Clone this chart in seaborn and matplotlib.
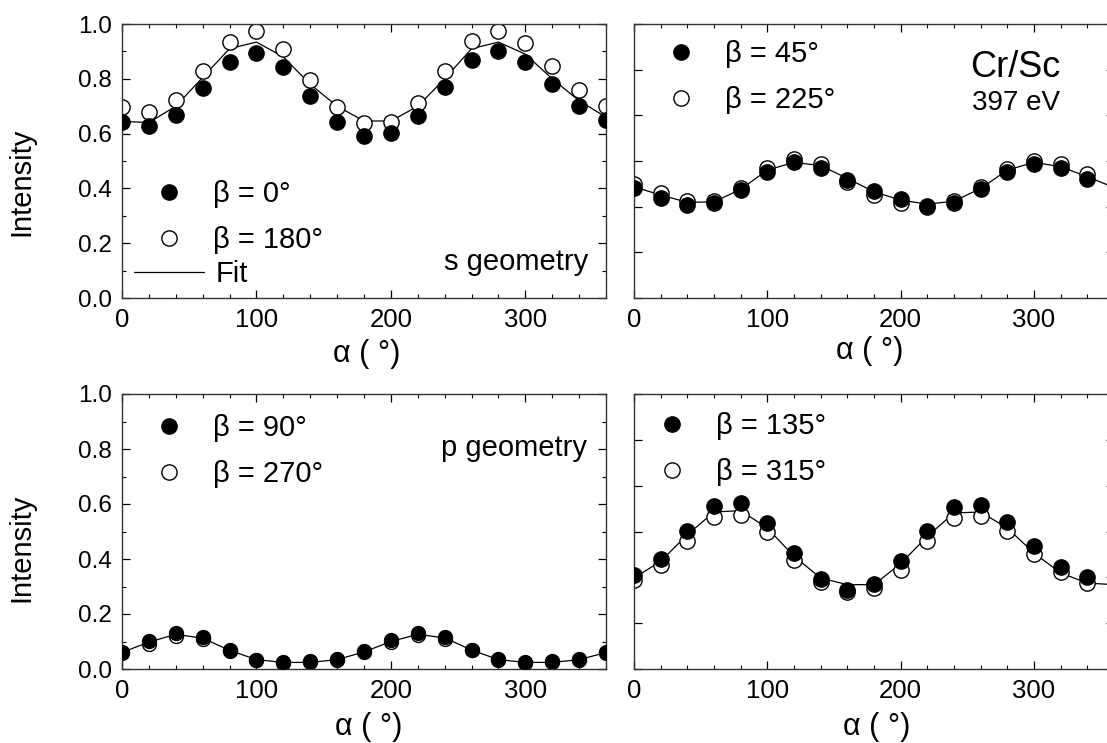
import numpy as np
import pandas as pd
import matplotlib
matplotlib.use("Agg")
import matplotlib.pyplot as plt
from matplotlib.lines import Line2D
from matplotlib.ticker import MultipleLocator
import seaborn as sns

# ---------------- data ----------------
alpha = [0, 20, 40, 60, 80, 100, 120, 140, 160, 180, 200, 220, 240, 260, 280, 300, 320, 340, 360]
alpha_r = alpha[:-1]

# s geometry (left axis scale 0-1)
b0 = [0.644, 0.629, 0.668, 0.766, 0.863, 0.894, 0.843, 0.739, 0.641, 0.591, 0.601, 0.665, 0.770, 0.867, 0.900, 0.861, 0.780, 0.699, 0.648]
b180 = [0.696, 0.679, 0.723, 0.830, 0.934, 0.973, 0.909, 0.796, 0.696, 0.638, 0.641, 0.713, 0.830, 0.937, 0.973, 0.930, 0.845, 0.760, 0.699]
fit_s = [0.645, 0.640, 0.700, 0.805, 0.910, 0.934, 0.880, 0.780, 0.700, 0.646, 0.646, 0.700, 0.800, 0.910, 0.934, 0.890, 0.800, 0.720, 0.660]

# beta 45/225 (own scale 0-1.2)
b45 = [0.480, 0.440, 0.407, 0.414, 0.473, 0.553, 0.594, 0.568, 0.517, 0.470, 0.433, 0.404, 0.414, 0.476, 0.550, 0.587, 0.571, 0.521]
b225 = [0.498, 0.458, 0.424, 0.424, 0.483, 0.568, 0.607, 0.585, 0.509, 0.451, 0.414, 0.400, 0.424, 0.487, 0.565, 0.601, 0.587, 0.543]
fit_45 = [0.487, 0.451, 0.419, 0.421, 0.476, 0.560, 0.594, 0.580, 0.524, 0.465, 0.429, 0.411, 0.424, 0.480, 0.560, 0.594, 0.575, 0.531, 0.484]

# p geometry (left axis scale 0-1)
b90 = [0.061, 0.103, 0.131, 0.115, 0.068, 0.034, 0.024, 0.028, 0.038, 0.064, 0.107, 0.131, 0.116, 0.070, 0.036, 0.024, 0.028, 0.038, 0.062]
b270 = [0.058, 0.092, 0.121, 0.109, 0.067, 0.032, 0.022, 0.025, 0.034, 0.061, 0.097, 0.122, 0.110, 0.068, 0.034, 0.022, 0.025, 0.034, 0.059]
fit_p = [0.060, 0.098, 0.126, 0.112, 0.068, 0.034, 0.024, 0.024, 0.034, 0.062, 0.100, 0.126, 0.113, 0.069, 0.034, 0.024, 0.024, 0.034, 0.060]

# beta 135/315 (own scale 0-1.2)
b135 = [0.412, 0.481, 0.604, 0.710, 0.724, 0.637, 0.506, 0.394, 0.346, 0.372, 0.470, 0.601, 0.705, 0.717, 0.641, 0.535, 0.445, 0.401]
b315 = [0.390, 0.455, 0.560, 0.662, 0.673, 0.598, 0.477, 0.380, 0.336, 0.353, 0.433, 0.560, 0.659, 0.669, 0.604, 0.502, 0.422, 0.375]
fit_135 = [0.397, 0.470, 0.586, 0.685, 0.691, 0.615, 0.492, 0.397, 0.368, 0.368, 0.460, 0.579, 0.681, 0.685, 0.615, 0.506, 0.419, 0.375, 0.368]

x_ticks = [0, 100, 200, 300]
y_ticks_left = [0.0, 0.2, 0.4, 0.6, 0.8, 1.0]

# ---------------- style ----------------
sns.set_theme(style="ticks")
plt.rcParams['font.family'] = ['Liberation Sans', 'DejaVu Sans']
plt.rcParams['text.color'] = 'black'
plt.rcParams['axes.labelcolor'] = 'black'
plt.rcParams['xtick.color'] = 'black'
plt.rcParams['ytick.color'] = 'black'

W, H = 1107, 743
fig = plt.figure(figsize=(W / 100, H / 100), dpi=100)


def px_axes(left, right, top, bottom):
    return fig.add_axes([left / W, 1 - bottom / H, (right - left) / W, (bottom - top) / H])


axTL = px_axes(122, 606, 24, 298)
axTR = px_axes(634, 1114, 24, 298)
axBL = px_axes(122, 606, 394, 669)
axBR = px_axes(634, 1114, 394, 669)

MS = 11


def draw(ax, xs_pts, filled, opened, fit, ms=MS):
    df = pd.DataFrame({"a": xs_pts, "f": filled, "o": opened})
    dfit = pd.DataFrame({"a": alpha[:len(fit)], "fit": fit})
    sns.lineplot(data=dfit, x="a", y="fit", ax=ax, color="black", lw=0.9, zorder=1)
    sns.scatterplot(data=df, x="a", y="o", ax=ax, s=ms ** 2, color="white",
                    edgecolor="black", linewidth=1.0, zorder=2)
    sns.scatterplot(data=df, x="a", y="f", ax=ax, s=ms ** 2, color="black",
                    edgecolor="black", linewidth=1.0, zorder=3)


draw(axTL, alpha, b0, b180, fit_s)
draw(axTR, alpha_r, b45, b225, fit_45)
draw(axBL, alpha, b90, b270, fit_p, ms=10)
draw(axBR, alpha_r, b135, b315, fit_135)

xlabel_pos = {axTL: (0.506, -0.204), axTR: (0.492, -0.193),
              axBL: (0.51, -0.21), axBR: (0.506, -0.21)}
ylabel_pos = {axTL: (-0.207, 0.423), axBL: (-0.207, 0.44)}

for ax, left in [(axTL, True), (axBL, True), (axTR, False), (axBR, False)]:
    ax.set_xlim(0, 360)
    if left:
        ax.set_ylim(0, 1.0)
        ax.set_yticks(y_ticks_left)
        ax.yaxis.set_minor_locator(MultipleLocator(0.1))
        ax.set_yticklabels([f"{v:.1f}" for v in y_ticks_left])
        ax.set_ylabel("Intensity", fontsize=21, color="black")
        ax.yaxis.label.set_va("center")
        ax.yaxis.set_label_coords(*ylabel_pos[ax])
    else:
        ax.set_ylim(0, 1.2)
        ax.yaxis.set_major_locator(MultipleLocator(0.2))
        ax.set_yticklabels([])
        ax.set_ylabel("")
    ax.set_xticks(x_ticks)
    ax.xaxis.set_minor_locator(MultipleLocator(20))
    ax.set_xlabel("α ( °)", fontsize=22, color="black")
    ax.xaxis.label.set_va("center")
    ax.xaxis.set_label_coords(*xlabel_pos[ax])
    ax.tick_params(axis="both", which="major", direction="in", length=6, width=0.9,
                   top=True, right=True, colors="black")
    ax.tick_params(axis="y", which="major", labelsize=17.5, pad=7.5)
    ax.tick_params(axis="x", which="major", labelsize=18.5, pad=7)
    ax.tick_params(axis="both", which="minor", direction="in", length=3, width=0.8,
                   top=True, right=True, colors="black")
    for sp in ax.spines.values():
        sp.set_visible(True)
        sp.set_color("#333333")
        sp.set_linewidth(1.0)
    ax.set_facecolor("white")
    ax.grid(False)


def make_legend(ax, labels, anchor):
    h = [Line2D([], [], ls="none", marker="o", ms=MS, mfc="black", mec="black"),
         Line2D([], [], ls="none", marker="o", ms=MS, mfc="white", mec="black")]
    leg = ax.legend(h, labels, loc="center left", bbox_to_anchor=anchor, frameon=False,
                    fontsize=21, handlelength=2.4, handletextpad=0.3, labelspacing=0.62,
                    borderaxespad=0, borderpad=0, labelcolor="black")
    return leg


legTL = make_legend(axTL, ["β = 0°", "β = 180°"], (0.025, 0.294))
axTL.add_artist(legTL)
axTL.legend([Line2D([], [], color="black", lw=0.9)], ["Fit"], loc="center left",
            bbox_to_anchor=(0.025, 0.088), frameon=False, fontsize=21, handlelength=2.4,
            handletextpad=0.4, borderaxespad=0, borderpad=0, labelcolor="black")
make_legend(axTR, ["β = 45°", "β = 225°"], (0.025, 0.805))
make_legend(axBL, ["β = 90°", "β = 270°"], (0.025, 0.793))
make_legend(axBR, ["β = 135°", "β = 315°"], (0.006, 0.80))

axTL.text(0.815, 0.13, "s geometry", transform=axTL.transAxes, fontsize=21,
          ha="center", va="center", color="black")
axBL.text(0.81, 0.804, "p geometry", transform=axBL.transAxes, fontsize=21,
          ha="center", va="center", color="black")
axTR.text(0.795, 0.843, "Cr/Sc", transform=axTR.transAxes, fontsize=26,
          ha="center", va="center", color="black")
axTR.text(0.795, 0.712, "397 eV", transform=axTR.transAxes, fontsize=20,
          ha="center", va="center", color="black")

fig.savefig("out.png", dpi=100, facecolor="white")
